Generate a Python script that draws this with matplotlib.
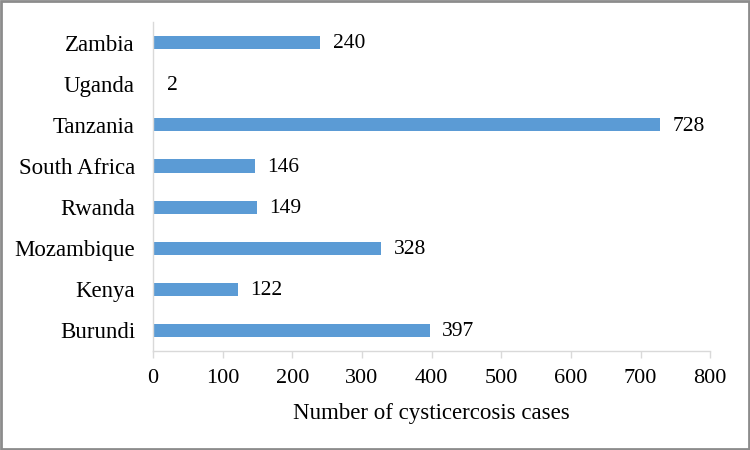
import matplotlib
matplotlib.use("Agg")
import matplotlib.pyplot as plt
from matplotlib.patches import Rectangle

countries = ["Burundi", "Kenya", "Mozambique", "Rwanda", "South Africa",
             "Tanzania", "Uganda", "Zambia"]
cases = [397, 122, 328, 149, 146, 728, 2, 240]
x_ticks = [0, 100, 200, 300, 400, 500, 600, 700, 800]

BAR_COLOR = "#5B9BD5"
AXIS_COLOR = "#D9D9D9"

plt.rcParams["font.family"] = ["Liberation Serif", "DejaVu Serif"]

fig = plt.figure(figsize=(7.5, 4.5), dpi=100)
ax = fig.add_axes([0.204, 0.22, 0.743, 0.731])

ypos = range(len(countries))
ax.barh(ypos, cases, height=0.32, color=BAR_COLOR)
for y, v in zip(ypos, cases):
    ax.annotate(str(v), (v, y), xytext=(9, -1), textcoords="offset points",
                va="center", ha="left", fontsize=15.5)

ax.set_xlim(0, 800)
ax.set_ylim(-0.5, len(countries) - 0.5)
ax.set_xticks(x_ticks)
ax.set_yticks(list(ypos))
ax.set_yticklabels(countries, fontsize=16.5)
ax.tick_params(axis="x", labelsize=16, color=AXIS_COLOR, length=5, width=1, pad=8)
ax.tick_params(axis="y", length=0, pad=13)
ax.set_xlabel("Number of cysticercosis cases", fontsize=16.5, labelpad=11)

for side in ["top", "right"]:
    ax.spines[side].set_visible(False)
for side in ["left", "bottom"]:
    ax.spines[side].set_color(AXIS_COLOR)
    ax.spines[side].set_linewidth(1)

fig.patches.append(Rectangle((0.001, 0.002), 0.997, 0.996, transform=fig.transFigure,
                             fill=False, edgecolor="#8C8C8C", linewidth=2))

fig.savefig("out.png", dpi=100)
